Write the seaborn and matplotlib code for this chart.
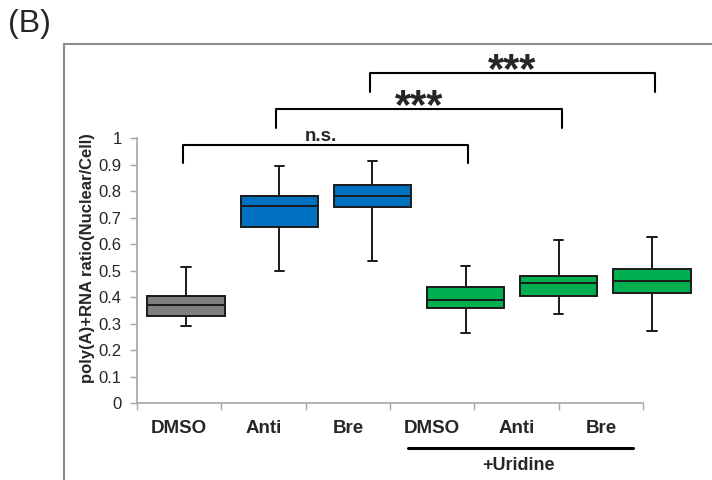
import numpy as np
import pandas as pd
import seaborn as sns
import matplotlib.pyplot as plt
from matplotlib.lines import Line2D

# box statistics
groups = ["DMSO", "Anti", "Bre", "DMSO+U", "Anti+U", "Bre+U"]
tick_labels = ["DMSO", "Anti", "Bre", "DMSO", "Anti", "Bre"]
whisker_low = [0.291, 0.498, 0.537, 0.266, 0.334, 0.272]
q1 = [0.330, 0.664, 0.740, 0.357, 0.402, 0.416]
median = [0.369, 0.744, 0.781, 0.387, 0.452, 0.459]
q3 = [0.402, 0.783, 0.823, 0.439, 0.481, 0.507]
whisker_high = [0.513, 0.893, 0.914, 0.518, 0.614, 0.625]
colors = ["#7f7f7f", "#0070c0", "#0070c0", "#00b050", "#00b050", "#00b050"]

# significance brackets: (from group, to group, label)
comparisons = [(0, 3, "n.s."), (1, 4, "***"), (2, 5, "***")]
bracket_y = [0.975, 1.108, 1.244]

rows = []
for g, a, b, c, d, e in zip(groups, whisker_low, q1, median, q3, whisker_high):
    for v in (a, b, c, d, e):
        rows.append({"group": g, "ratio": v})
df = pd.DataFrame(rows)

sns.set_theme(style="white")
plt.rcParams["font.family"] = ["Liberation Sans", "DejaVu Sans"]

fig = plt.figure(figsize=(7.12, 4.8), dpi=100)
ax = fig.add_axes([0.1924, 0.1604, 0.7107, 0.5521])

sns.boxplot(data=df, x="group", y="ratio", hue="group", order=groups,
            hue_order=groups, palette=colors, saturation=1, width=0.83,
            whis=(0, 100), linecolor="#1a1a1a", linewidth=1.4,
            legend=False, ax=ax, capwidths=0.1)
for art in ax.patches + ax.lines:
    art.set_clip_on(False)

x0, x1 = -0.526, 4.904
ax.set_xlim(x0, x1)
ax.set_ylim(0, 1)
bounds = np.linspace(x0, x1, 7)
ax.set_xticks(bounds)
ax.set_xticklabels([""] * 7)
ax.set_xticks((bounds[:-1] + bounds[1:]) / 2, minor=True)
ax.set_xticklabels(tick_labels, minor=True, fontsize=13.5, fontweight="bold")
ax.tick_params(axis="x", which="major", length=5, width=1, color="#a6a6a6",
               bottom=True)
ax.tick_params(axis="x", which="minor", length=0, pad=12, bottom=True)
ax.set_yticks(np.arange(0, 1.01, 0.1))
ax.set_yticklabels(["0", "0.1", "0.2", "0.3", "0.4", "0.5", "0.6", "0.7",
                    "0.8", "0.9", "1"], fontsize=12)
ax.tick_params(axis="y", length=5, width=1, color="#a6a6a6", left=True, pad=6)
ax.set_xlabel("")
ax.set_ylabel("poly(A)+RNA ratio(Nuclear/Cell)", fontsize=12,
              fontweight="bold")
ax.yaxis.set_label_coords(-0.083, 0.547)
sns.despine(ax=ax)
for s in ("left", "bottom"):
    ax.spines[s].set_color("#a6a6a6")
    ax.spines[s].set_linewidth(1.2)

# brackets
leg = 0.07
for (i, j, lab), yb in zip(comparisons, bracket_y):
    ax.plot([i - 0.03, i - 0.03, j + 0.03, j + 0.03],
            [yb - leg, yb, yb, yb - leg], color="black", lw=1.5,
            clip_on=False)
    xm = (i + j) / 2
    if lab == "n.s.":
        ax.text(xm - 0.05, yb + 0.015, lab, ha="center", va="baseline",
                fontsize=13.5, fontweight="bold")
    else:
        ax.text(xm, yb - 0.033, lab, ha="center", va="baseline",
                fontsize=30, fontweight="bold")

# +Uridine underline
ax.plot([0.536, 0.980], [-0.170, -0.170], color="black", lw=2.2,
        transform=ax.transAxes, clip_on=False)
ax.text(0.753, -0.234, "+Uridine", transform=ax.transAxes, ha="center",
        va="center", fontsize=13, fontweight="bold")

# panel frame and label
fig.add_artist(Line2D([0.0899, 0.0899], [0, 0.9083], color="#8c8c8c", lw=1.5))
fig.add_artist(Line2D([0.0899, 1], [0.9083, 0.9083], color="#8c8c8c", lw=1.5))
fig.text(0.011, 0.950, "(B)", fontsize=23, va="center", ha="left")

fig.savefig("out.png", dpi=100)
